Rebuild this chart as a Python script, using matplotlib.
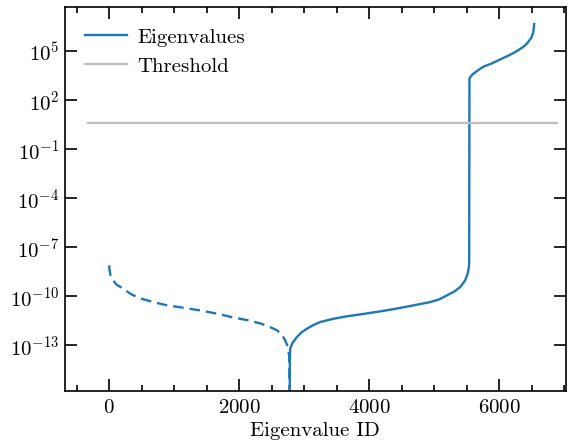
import numpy as np
import matplotlib
matplotlib.use("Agg")
import matplotlib.pyplot as plt
from matplotlib.ticker import MultipleLocator, NullLocator

plt.rcParams['font.family'] = 'serif'
plt.rcParams['font.serif'] = ['cmr10', 'DejaVu Serif']
plt.rcParams['mathtext.fontset'] = 'cm'
plt.rcParams['axes.formatter.use_mathtext'] = True
plt.rcParams['font.size'] = 15

# negative eigenvalues (shown as |lambda|, dashed)
neg_ids = [0, 8, 25, 62, 120, 215, 330, 477, 680, 892, 1150, 1400, 1650, 1908, 2120,
           2323, 2460, 2585, 2660, 2708, 2740, 2754, 2770, 2776]
neg_exp = [-8.1, -8.4, -8.75, -9.02, -9.3, -9.51, -9.85, -10.12, -10.35, -10.55, -10.7,
           -10.86, -11.05, -11.29, -11.45, -11.65, -11.85, -12.08, -12.35, -12.69, -13.0,
           -13.3, -13.6, -17.0]

# positive eigenvalues (solid)
pos_ids = [2777, 2780, 2785, 2820, 2888, 2960, 3042, 3140, 3246, 3440, 3657, 3900,
           4169, 4420, 4682, 4938, 5080, 5195, 5310, 5400, 5477, 5515, 5532, 5538,
           5540, 5542, 5560, 5600, 5680, 5754, 5900, 6015, 6150, 6277, 6380, 6431,
           6490, 6523, 6538]
pos_exp = [-17.0, -14.0, -13.2, -12.85, -12.49, -12.2, -11.98, -11.76, -11.57, -11.38,
           -11.22, -11.08, -10.92, -10.75, -10.55, -10.35, -10.18, -9.94, -9.7, -9.43,
           -9.02, -8.6, -8.25, -7.98, -2.0, 3.3, 3.45, 3.62, 3.85, 4.05, 4.28, 4.5,
           4.75, 5.02, 5.3, 5.5, 5.8, 6.15, 6.67]

threshold = 4.0
thr_ids = [-330, 6890]

y_ticks = [1e5, 1e2, 1e-1, 1e-4, 1e-7, 1e-10, 1e-13]

neg_vals = 10.0 ** np.array(neg_exp)
pos_vals = 10.0 ** np.array(pos_exp)

fig = plt.figure(figsize=(5.76, 4.46), dpi=100)
ax = fig.add_axes([0.112, 0.123, 0.871, 0.861])

blue = '#1f77b4'
ax.plot(pos_ids, pos_vals, color=blue, lw=1.7, label='Eigenvalues')
ax.plot(neg_ids, neg_vals, color=blue, lw=1.7, ls=(0, (4.5, 2.5)))
ax.plot(thr_ids, [threshold, threshold], color='#bfbfbf', lw=1.7, label='Threshold')

ax.set_yscale('log')
ax.set_xlim(-685, 7030)
ax.set_ylim(10 ** -15.8, 10 ** 7.7)
ax.set_yticks(y_ticks)
ax.yaxis.set_minor_locator(NullLocator())
ax.xaxis.set_major_locator(MultipleLocator(2000))
ax.xaxis.set_minor_locator(MultipleLocator(500))
ax.tick_params(which='both', direction='in', top=True, right=True, width=1.2)
ax.tick_params(which='major', length=8.5)
ax.tick_params(which='minor', length=4.5)
ax.tick_params(axis='x', which='major', pad=6)
ax.tick_params(axis='y', which='major', pad=4)
for s in ax.spines.values():
    s.set_linewidth(1.2)

ax.set_xlabel('Eigenvalue ID', labelpad=3)
ax.legend(loc='upper left', frameon=False, handlelength=2.0, borderaxespad=0.6,
          labelspacing=0.5, handletextpad=0.5)

fig.savefig('out.png', dpi=100)
